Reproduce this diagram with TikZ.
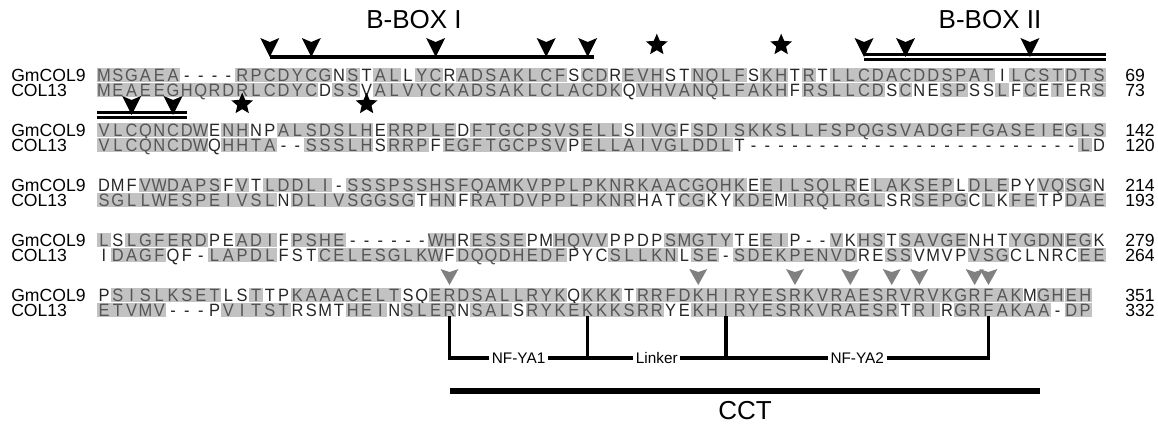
\documentclass[tikz,border=0pt]{standalone}
\usepackage{fontspec}
\setmainfont{Liberation Sans}
\newfontfamily\resfont[FakeStretch=0.92]{Liberation Sans}
\usepackage{xcolor}
\usepackage{tikz}
\usetikzlibrary{positioning, shapes.geometric}

\definecolor{cellgray}{RGB}{194,194,194}
\definecolor{textgray}{RGB}{85,85,85}
\definecolor{markgray}{RGB}{128,128,128}

% latime coloana (px)
\newcommand{\colw}{13.82}
\newcount\rescol

% rand aliniere: nume, y, reziduuri (litera mica = fara umbra)
\newcommand{\seqrow}[3]{%
  \global\rescol=0
  \def\rowname{#1}\def\rowy{#2}%
  \readres#3\relax}
\def\readres#1{%
  \ifx#1\relax\else
    \global\advance\rescol by 1
    \putres{#1}%
    \expandafter\readres
  \fi}
\newcommand{\putres}[1]{%
  \pgfmathsetmacro{\resx}{104+(\the\rescol-1)*\colw}%
  \ifnum`#1=45
    \node[gapres] (\rowname-\the\rescol) at (\resx,\rowy) {-};%
  \else\ifnum`#1>90
    \uppercase{\def\resletter{#1}}%
    \node[plainres] (\rowname-\the\rescol) at (\resx,\rowy) {\resletter};%
  \else
    \node[shadedres] (\rowname-\the\rescol) at (\resx,\rowy) {#1};%
  \fi\fi}

\tikzset{
  res/.style={inner sep=0pt, minimum width=10.36pt, minimum height=10.6pt,
    text height=9.6pt, text depth=0pt, font=\resfont\fontsize{13.4}{14}\selectfont},
  shadedres/.style={res, fill=cellgray, text=textgray},
  plainres/.style={res, text=black!85},
  gapres/.style={res, text=black!85},
  seqname/.style={anchor=west, inner sep=0pt, text height=9.4pt, text depth=0pt,
    font=\fontsize{13.2}{14}\selectfont},
  boxlab/.style={inner sep=0pt, font=\fontsize{19.5}{21}\selectfont},
  seglab/.style={fill=white, inner sep=2pt, font=\fontsize{11.5}{12}\selectfont},
  znstar/.style={star, star points=5, star point ratio=2.2, fill=black,
    inner sep=0pt, minimum size=17pt},
  boxbar/.style={line width=3.6pt},
  dblbar/.style={double, line width=2pt, double distance=1.7pt},
  bracket/.style={line width=2.6pt, line cap=rect},
  cctbar/.style={line width=3.8pt},
  znsite/.pic={\fill (0,0) -- (-9.5,-19) -- (0,-15) -- (9.5,-19) -- cycle;},
  ncsite/.pic={\fill[markgray] (0,0) -- (-9,-16) -- (0,-13) -- (9,-16) -- cycle;},
}

\begin{document}
\begin{tikzpicture}[x=0.75pt, y=-0.75pt]
    \useasboundingbox (0,0) rectangle (1158,425);

    % Secvente
    \foreach \b/\y/\gn/\cn in {1/75/69/73, 2/130/142/120, 3/185/214/193, 4/240/279/264, 5/295/351/332} {
        \node[seqname] (gname\b) at (11,\y) {GmCOL9};
        \node[seqname] (cname\b) at (11,\y+15) {COL13};
        \node[seqname] (gnum\b) at (1125,\y) {\gn};
        \node[seqname] (cnum\b) at (1125,\y+15) {\cn};
    }
    \seqrow{g1}{75}{MSGAEA----RPCDYCGnStALlYCrADSAKLCFsCDrEVHstNQLFsKHtRtLLCDACDDSPATiLCSTDTS}
    \seqrow{c1}{90}{MEAEEGHQRDRLCDYCdSSvALVYCKADSAKLCLACDKqVHVANQLFAKHfRSLLCDsCneSPssLfCeTerS}
    \seqrow{g2}{130}{VLCQNCDWeNHnpALSDSLHeRRPLEdFTGCPSVSELLsIVGfSDISKKSLLFSPQGSVADGFFGASEIEGLS}
    \seqrow{c2}{145}{VLCQNCDWqHHTA--SSSLHsRRPfEGFTGCPSVpELLAIVGLDDLt------------------------Ld}
    \seqrow{g3}{185}{dmfVWDAPSfVtLDDLI-SSSPSSHSFQAMKVPPLPKNRKAACGQHKeEILSQLReLAKSEPlDLEpyVQSGn}
    \seqrow{c3}{200}{SGLLWESPEIVSLnDLIVSGGSGtHNfRATDVPPLPKNRhatCGkyKDEmIRQLRGLsrSEPGcLkFEtpDAE}
    \seqrow{g4}{240}{LsLGFERDpeADIfPSHE------WHrESSEpmHQVVppdpSMGTYteEIp--VkHStSAVGEnhtYGDNEGk}
    \seqrow{c4}{255}{iDAGFqf-LAPDLfstCELESGLKWfDQQDHEDFpycSLLKNlSE-SDEKPENVDreSSvmvpVSGclnrcEE}
    \seqrow{g5}{295}{pSISLKSETlsTtpKAAACELTsqERDSALLRYKqKKKtRRFDKHIRYESRKVRAESRVRVKGRFAKmGHEH}
    \seqrow{c5}{310}{ETVMV---pVITSTrsmtHEInSLERnSALsRYKEKKKSRRyeKHIRYESRKVRAESRtRIrGRFAKAA-DP}

    % B-box
    \coordinate (top1) at (0,57);
    \coordinate (top2) at (0,115);
    \coordinate (star1) at (0,45);
    \coordinate (star2) at (0,104);
    \node[boxlab] (bbox1) at (414,20) {B-BOX I};
    \node[boxlab] (bbox2) at (990,20) {B-BOX II};
    \coordinate (bb1end) at ([xshift=5pt]g1-36.center);
    \coordinate (bb2end) at ([xshift=5pt]g1-73.center);
    \coordinate (bb2start) at ([xshift=-5pt]g2-1.center);
    \draw[boxbar] (g1-13 |- top1) -- (bb1end |- top1);
    \draw[dblbar] (g1-56 |- top1) -- (bb2end |- top1);
    \draw[dblbar] (bb2start |- top2) -- (g2-7 |- top2);
    \foreach \c in {13,16,25,33,36,56,59,68}
        \pic at (g1-\c |- top1) {znsite};
    \foreach \c in {3,6}
        \pic at (g2-\c |- top2) {znsite};
    \node[znstar] (his1) at (g1-41 |- star1) {};
    \node[znstar] (his2) at (g1-50 |- star1) {};
    \node[znstar] (his3) at (g2-11 |- star2) {};
    \node[znstar] (his4) at (g2-20 |- star2) {};

    % CCT
    \coordinate (nc5) at (0,285);
    \foreach \c in {26,44,51,55,58,60,64,65}
        \pic at (g5-\c |- nc5) {ncsite};
    \coordinate (yaline) at (0,358);
    \foreach \c in {26,36,46,65}
        \draw[bracket] (c5-\c.south) -- (c5-\c |- yaline);
    \draw[bracket] (c5-26 |- yaline) -- node[seglab] (nfya1) {NF-YA1}
        (c5-36 |- yaline) -- node[seglab] (linker) {Linker}
        (c5-46 |- yaline) -- node[seglab] (nfya2) {NF-YA2} (c5-65 |- yaline);
    \coordinate (cctL) at (449.5,391);
    \coordinate (cctR) at (1040,391);
    \draw[cctbar] (cctL) -- (cctR);
    \node[boxlab] (cct) at (745,411) {CCT};
\end{tikzpicture}
\end{document}
